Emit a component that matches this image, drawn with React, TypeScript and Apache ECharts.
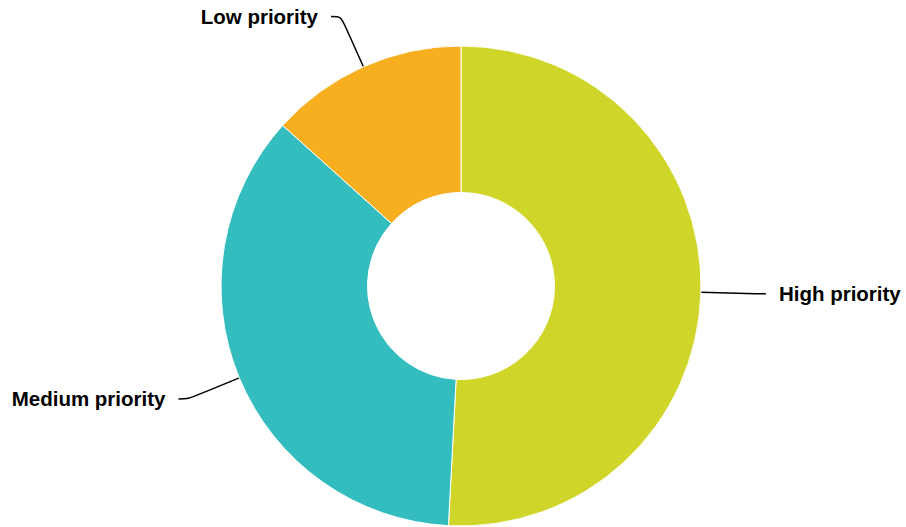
import React, { useEffect, useRef } from "react";
import * as echarts from "echarts";

const categories = ["High priority", "Medium priority", "Low priority"];
const values = [61, 43, 16];
const colors = ["#CFD629", "#34BDBF", "#F7AF1F"];

export default function App() {
  const ref = useRef<HTMLDivElement>(null);
  useEffect(() => {
    if (!ref.current) return;
    const chart = echarts.init(ref.current, null, { renderer: "svg" });
    chart.setOption({
      animation: false,
      backgroundColor: "#ffffff",
      series: [
        {
          type: "pie",
          center: [461, 286],
          radius: [93.5, 240],
          startAngle: 90,
          clockwise: true,
          avoidLabelOverlap: true,
          itemStyle: { borderColor: "#ffffff", borderWidth: 1 },
          label: {
            show: true,
            color: "#000000",
            fontWeight: "bold",
            fontSize: 20.5,
            fontFamily: "Arial, 'Liberation Sans', sans-serif",
            distanceToLabelLine: 13,
            overflow: "none",
          },
          labelLine: {
            show: true,
            length: 55,
            length2: 10,
            smooth: true,
            lineStyle: { color: "#000000", width: 1.5 },
          },
          data: categories.map((c, i) => ({
            name: c,
            value: values[i],
            itemStyle: { color: colors[i] },
          })),
        },
      ],
    });
    return () => chart.dispose();
  }, []);
  return (
    <div
      ref={ref}
      style={{ position: "fixed", left: 0, top: 0, width: 906, height: 527 }}
    />
  );
}
